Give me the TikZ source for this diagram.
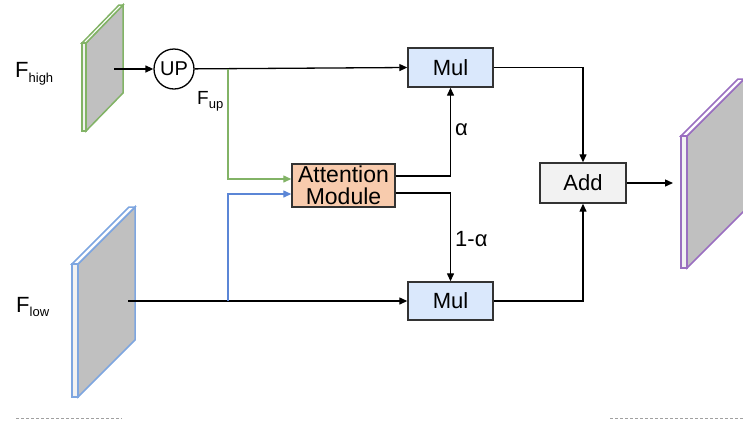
\documentclass[tikz,border=0pt]{standalone}
\usepackage{fontspec}
\setmainfont{Liberation Sans}
\usetikzlibrary{arrows.meta}

\definecolor{boxline}{HTML}{333333}
\definecolor{mulfill}{HTML}{DAE8FC}
\definecolor{attfill}{HTML}{F8CBAD}
\definecolor{addfill}{HTML}{F2F2F2}
\definecolor{plategray}{HTML}{C0C0C0}
\definecolor{platefront}{HTML}{F2F2F2}
\definecolor{greenedge}{HTML}{82B366}
\definecolor{blueedge}{HTML}{7EA6E0}
\definecolor{purpleedge}{HTML}{9A6FC0}
\definecolor{greenline}{HTML}{82B366}
\definecolor{blueline}{HTML}{5B86D6}
\definecolor{dashgray}{HTML}{A0A0A0}

\tikzset{
  opbox/.style={draw=boxline, line width=1.4pt, inner sep=0pt,
    font=\fontsize{22}{22}\selectfont, align=center},
  arr/.style={line width=1.3pt, -{Triangle[length=8pt,width=7pt]}},
  plateedge/.style={line width=1.5pt, line join=miter},
  lbl/.style={anchor=base west, inner sep=0pt},
  sepline/.style={draw=dashgray, line width=1pt, dash pattern=on 3pt off 2pt},
}

% feature map drawn as a thin slab: grey face, top edge, front edge
% #1 colour, #2 x left, #3 x right of the front edge, #4 top, #5 bottom, #6/#7 depth offset
\newcommand{\featplate}[7]{%
  \filldraw[plateedge, draw=#1, fill=plategray]
    (#3,#4) -- ++(#6,-#7) -- ++(0,#5-#4) -- (#3,#5) -- cycle;
  \filldraw[plateedge, draw=#1, fill=white]
    (#2,#4) -- ++(#6,-#7) -- ++(#3-#2,0) -- (#3,#4) -- cycle;
  \filldraw[plateedge, draw=#1, fill=platefront]
    (#2,#4) rectangle (#3,#5);
}

\begin{document}
\begin{tikzpicture}[x=1pt,y=-1pt]
  \useasboundingbox (0,0) rectangle (743,421);
  \clip (0,0) rectangle (743,421);

  % input and output feature maps
  \featplate{greenedge}{82}{86}{43}{131}{37}{38}
  \featplate{blueedge}{72}{78}{264}{397}{57}{57}
  \featplate{purpleedge}{681}{687}{136}{268}{57}{57}

  % labels of the feature maps
  \node[lbl] (fhigh) at (15,77) {\fontsize{22}{22}\selectfont F\raisebox{-5pt}{\fontsize{13}{13}\selectfont high}};
  \node[lbl] (flow) at (16,312) {\fontsize{22}{22}\selectfont F\raisebox{-4pt}{\fontsize{13}{13}\selectfont low}};
  \node[lbl] (fup) at (197,104) {\fontsize{19}{19}\selectfont F\raisebox{-4pt}{\fontsize{13}{13}\selectfont up}};

  % operators
  \node[draw=black, line width=1.3pt, circle, minimum size=40pt, inner sep=0pt,
        font=\fontsize{20}{20}\selectfont] (up) at (174,69) {UP};
  \node[opbox, fill=mulfill, minimum width=85pt, minimum height=39pt] (multop) at (450.5,67.5) {Mul};
  \node[opbox, fill=mulfill, minimum width=85pt, minimum height=38pt] (mulbot) at (450.5,301) {Mul};
  \node[opbox, fill=attfill, minimum width=103pt, minimum height=43pt,
        font=\fontsize{23}{22}\selectfont] (att) at (343.5,185.5) {Attention\\Module};
  \node[opbox, fill=addfill, minimum width=86pt, minimum height=40pt] (add) at (583,183) {Add};

  % connector end points
  \coordinate (hsrc) at (114,69);
  \coordinate (lsrc) at (128,301);
  \coordinate (upbr) at (228,69);
  \coordinate (lowbr) at (228,301);
  \coordinate (outtip) at (673,183);

  % connectors
  \draw[arr] (hsrc) -- (up);
  \draw[arr] (up) -- (multop.west);
  \draw[arr, draw=greenline, -{Triangle[length=8pt,width=7pt,fill=greenline]}]
    (upbr) |- ([yshift=6.5pt]att.west);
  \draw[arr] (lsrc) -- (mulbot.west);
  \draw[arr, draw=blueline, -{Triangle[length=8pt,width=7pt,fill=blueline]}]
    (lowbr) |- ([yshift=-8.5pt]att.west);
  \draw[arr] ([yshift=9.5pt]att.east) -| (multop.south);
  \draw[arr] ([yshift=-7.5pt]att.east) -| (mulbot.north);
  \draw[arr] (multop.east) -| (add.north);
  \draw[arr] (mulbot.east) -| (add.south);
  \draw[arr] (add.east) -- (outtip);

  % weights
  \node[lbl, font=\fontsize{22}{22}\selectfont] (alpha) at (455,135) {α};
  \node[lbl, font=\fontsize{22}{22}\selectfont] (onemalpha) at (455,246) {1-α};

  % separators at the bottom
  \coordinate (sepAa) at (16,418);
  \coordinate (sepAb) at (122,418);
  \coordinate (sepBa) at (610,418);
  \coordinate (sepBb) at (743,418);
  \draw[sepline] (sepAa) -- (sepAb);
  \draw[sepline] (sepBa) -- (sepBb);
\end{tikzpicture}
\end{document}
